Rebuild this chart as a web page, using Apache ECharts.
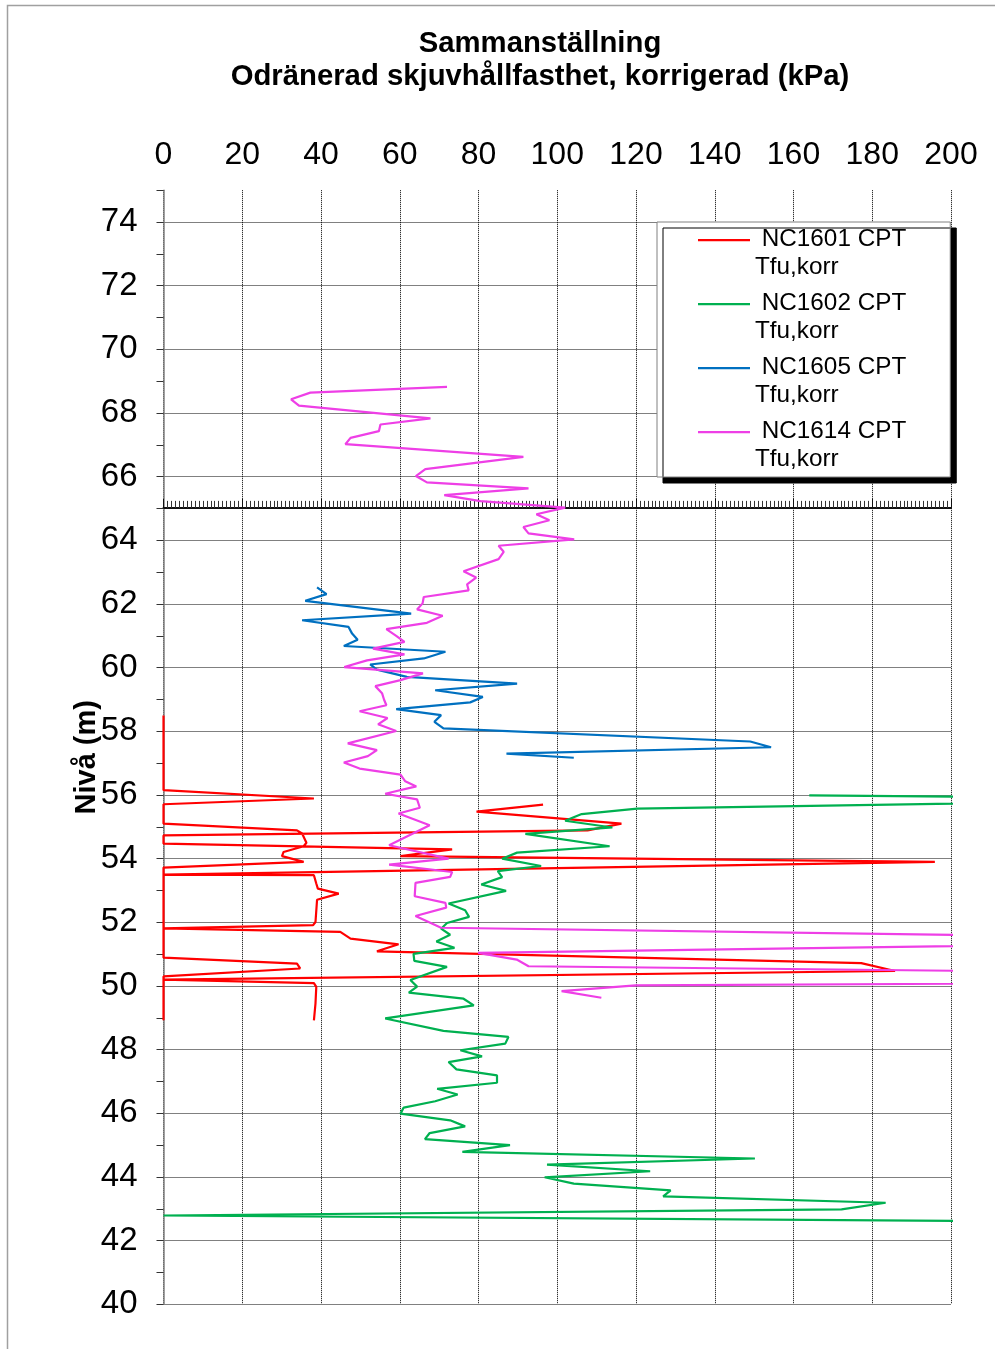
<!DOCTYPE html>
<html>
<head>
<meta charset="utf-8">
<script src="https://cdn.jsdelivr.net/npm/echarts@6/dist/echarts.min.js"></script>
<style>html,body{margin:0;padding:0;background:#fff}#chart{width:995px;height:1349px}</style>
</head>
<body>
<div id="chart"></div>
<script>
// ---- data (level in m, value in kPa) ----
const seriesNames = ['NC1601 CPT Tfu,korr', 'NC1602 CPT Tfu,korr', 'NC1605 CPT Tfu,korr', 'NC1614 CPT Tfu,korr'];
const seriesColors = ['#FF0000', '#00B050', '#0070C0', '#EE3FE6'];
const groundLevel = 65.02;

const nc1601aLevel = [58.5, 56.15, 55.89, 55.71, 55.10, 54.89, 54.79, 54.50, 54.39, 54.21, 54.08, 53.90, 53.72, 50.89, 50.70, 50.55, 50.30, 48.92];
const nc1601aValue = [0, 0, 38.2, 0, 0, 33.9, 35.2, 36.3, 35.6, 30.5, 30.1, 35.6, 0, 0, 33.9, 34.7, 0, 0];
const nc1601bLevel = [55.70, 55.48, 55.10, 54.89, 54.73, 54.47, 54.29, 54.08, 53.90, 53.50, 53.48, 53.22, 53.06, 52.90, 52.71, 52.01, 51.91, 51.81, 51.75, 51.70, 51.49, 51.31, 51.09, 50.72, 50.47, 50.20, 50.09, 49.97, 49.45, 48.92];
const nc1601bValue = [96.4, 79.5, 116.3, 107.7, 0, 0, 73.3, 60.2, 195.9, 0, 38.2, 38.8, 39.2, 44.5, 39.0, 38.6, 38.0, 0, 0, 44.9, 47.5, 59.7, 54.2, 177.2, 185.8, 0, 38.2, 38.8, 38.6, 38.2];

const nc1602Level = [55.99, 55.87, 55.57, 55.40, 55.19, 54.98, 54.78, 54.39, 54.19, 54.00, 53.77, 53.61, 53.42, 53.19, 52.99, 52.59, 52.38, 52.17, 51.98, 51.80, 51.61, 51.40, 51.20, 51.01, 50.79, 50.60, 50.19, 49.98, 49.79, 49.60, 49.39, 48.98, 48.59, 48.40, 48.19, 47.98, 47.79, 47.61, 47.38, 47.19, 46.96, 46.77, 46.59, 46.38, 46.18, 45.99, 45.78, 45.59, 45.38, 45.19, 45.00, 44.79, 44.58, 44.39, 44.18, 43.99, 43.79, 43.58, 43.39, 43.19, 42.98, 42.79, 42.62];
const nc1602Value = [164, 271, 120.3, 106.2, 102.0, 114.0, 91.9, 113.3, 89.8, 86.0, 95.9, 84.9, 86.0, 80.7, 87.0, 72.4, 76.6, 77.6, 72.0, 70.5, 72.8, 69.3, 73.9, 63.5, 63.7, 72.0, 62.7, 64.4, 62.3, 76.2, 78.8, 56.3, 71.1, 87.6, 86.8, 75.4, 80.9, 72.4, 74.4, 84.7, 84.7, 69.5, 74.7, 69.0, 61.0, 60.2, 72.8, 76.6, 67.6, 66.4, 88.0, 75.9, 150.2, 97.4, 123.6, 96.8, 104.2, 128.8, 126.9, 183.4, 172.2, 0, 202];

const nc1605Level = [62.52, 62.31, 62.10, 61.70, 61.49, 61.28, 61.07, 60.88, 60.68, 60.50, 60.29, 60.10, 59.94, 59.71, 59.50, 59.29, 59.08, 58.91, 58.70, 58.51, 58.30, 58.09, 57.68, 57.50, 57.30, 57.17];
const nc1605Value = [39.0, 41.4, 36.0, 62.9, 35.2, 47.0, 47.9, 49.3, 45.8, 71.6, 66.1, 52.5, 54.2, 61.8, 89.8, 69.0, 81.1, 77.9, 59.1, 70.5, 68.8, 71.1, 149.0, 154.3, 87.1, 104.2];

const nc1614Level = [68.82, 68.64, 68.43, 68.23, 67.83, 67.64, 67.43, 67.22, 67.02, 66.62, 66.24, 66.02, 65.82, 65.63, 65.42, 65.23, 65.03, 64.82, 64.63, 64.42, 64.22, 64.03, 63.83, 63.64, 63.41, 63.03, 62.83, 62.62, 62.43, 62.22, 62.02, 61.83, 61.63, 61.41, 61.21, 61.00, 60.81, 60.60, 60.42, 60.23, 60.02, 59.82, 59.61, 59.42, 59.20, 59.00, 58.82, 58.63, 58.42, 58.22, 58.01, 57.62, 57.41, 57.22, 57.02, 56.83, 56.64, 56.43, 56.27, 56.04, 55.86, 55.60, 55.42, 55.05, 54.42, 54.00, 53.81, 53.58, 53.43, 53.24, 52.82, 52.61, 52.46, 52.20, 51.83, 51.43, 51.04, 50.83, 50.62, 50.20, 50.02, 49.84, 49.63];
const nc1614Value = [72.0, 37.3, 32.4, 34.4, 67.8, 55.1, 54.7, 47.5, 46.2, 91.4, 66.5, 64.1, 66.9, 92.7, 71.3, 80.5, 102.0, 94.7, 98.0, 91.4, 92.7, 104.3, 85.1, 86.4, 85.1, 76.2, 79.4, 77.1, 77.5, 66.1, 65.8, 64.4, 70.9, 66.9, 56.6, 59.1, 61.2, 53.2, 61.2, 51.7, 45.9, 65.9, 60.2, 53.8, 55.5, 56.0, 56.6, 49.8, 56.9, 54.5, 59.1, 46.8, 54.2, 51.9, 45.8, 49.8, 60.2, 61.4, 64.2, 56.3, 64.4, 65.1, 59.7, 67.6, 57.3, 72.4, 57.3, 73.3, 72.8, 64.0, 63.8, 71.6, 71.8, 64.0, 70.5, 304, 79.9, 89.7, 92.7, 413, 119.9, 101.1, 111.2];

const xMin = 0, xMax = 200, xStep = 20;
const yMin = 40, yMax = 75;

// ---- build ----
const zip = (vals, lvls) => vals.map((v, i) => [v, lvls[i]]);
const FONT = 'Liberation Sans, Arial, sans-serif';
const seriesData = [
  zip(nc1601aValue, nc1601aLevel).concat([[null, null]], zip(nc1601bValue, nc1601bLevel)),
  zip(nc1602Value, nc1602Level),
  zip(nc1605Value, nc1605Level),
  zip(nc1614Value, nc1614Level)
];

const chart = echarts.init(document.getElementById('chart'), null, {renderer: 'canvas'});
const option = {
  animation: false,
  backgroundColor: '#fff',
  graphic: [{
    type: 'rect', silent: true, z: -10,
    shape: {x: 7.5, y: 5.5, width: 1200, height: 1500},
    style: {fill: 'none', stroke: '#a0a0a0', lineWidth: 1.5}
  }],
  title: {
    text: 'Sammanställning\nOdränerad skjuvhållfasthet, korrigerad (kPa)',
    left: 540, top: 27, textAlign: 'center', padding: 0,
    textStyle: {fontFamily: FONT, fontSize: 29.3, fontWeight: 'bold', lineHeight: 33, color: '#000'}
  },
  grid: {left: 163.5, right: 44, top: 190.2, bottom: 44.7, containLabel: false},
  legend: {
    data: seriesNames,
    orient: 'vertical',
    left: 657, top: 222,
    padding: [4, 44, 4, 41],
    itemGap: 9,
    itemWidth: 52, itemHeight: 55,
    icon: 'path://M0,0 L0.01,0 M0,12.9 L52,12.9 L52,15.2 L0,15.2 Z M52,55 L51.99,55',
    itemStyle: {borderWidth: 0},
    selectedMode: false,
    formatter: n => ' ' + n.replace(' Tfu', '\nTfu'),
    textStyle: {fontFamily: FONT, fontSize: 24.3, lineHeight: 27.5, color: '#000'},
    backgroundColor: '#fff', borderColor: '#808080', borderWidth: 1,
    shadowColor: '#000', shadowBlur: 0, shadowOffsetX: 6, shadowOffsetY: 6
  },
  xAxis: [{
    type: 'value', gridIndex: 0, position: 'top', min: xMin, max: xMax, interval: xStep,
    axisLine: {show: false, onZero: false}, axisTick: {show: false},
    axisLabel: {fontFamily: FONT, fontSize: 32, color: '#000', margin: 19},
    splitLine: {show: true, lineStyle: {color: '#000', type: 'dotted', width: 1}}
  }, {
    type: 'value', gridIndex: 0, position: 'bottom', min: xMin, max: xMax, interval: xStep,
    axisLine: {show: true, onZero: true, onZeroAxisIndex: 2, lineStyle: {color: '#111', width: 2}},
    axisTick: {show: true, inside: true, length: 9, lineStyle: {color: '#111', width: 1}},
    minorTick: {show: true, splitNumber: 20, length: 7, lineStyle: {color: '#333', width: 1}},
    axisLabel: {show: false}, splitLine: {show: false}
  }],
  yAxis: [{
    type: 'value', gridIndex: 0, position: 'left', min: yMin, max: yMax, interval: 1,
    axisLine: {show: true, onZero: false, lineStyle: {color: '#808080', width: 1.5}},
    axisTick: {show: true, length: 7, lineStyle: {color: '#333'}},
    axisLabel: {fontFamily: FONT, fontSize: 33, color: '#000', margin: 26,
      formatter: v => (v % 2 === 0 ? String(v) : '')},
    splitLine: {show: false},
    name: 'Nivå (m)', nameLocation: 'middle', nameGap: 62, nameMoveOverlap: false,
    nameTextStyle: {fontFamily: FONT, fontSize: 29, fontWeight: 'bold', color: '#000', padding: [0, 20, 0, 0]}
  }, {
    type: 'value', gridIndex: 0, position: 'left', min: yMin, max: yMax, interval: 2,
    axisLine: {show: false, onZero: false}, axisTick: {show: false}, axisLabel: {show: false},
    splitLine: {show: true, showMaxLine: false, lineStyle: {color: '#000', type: 'dotted', width: 1}}
  }, {
    type: 'value', gridIndex: 0, show: false, position: 'right',
    min: yMin - groundLevel, max: yMax - groundLevel,
    axisLine: {onZero: false}, splitLine: {show: false}
  }],
  series: seriesNames.map((name, i) => ({
    name, type: 'line', xAxisIndex: 0, yAxisIndex: 0,
    data: seriesData[i], color: seriesColors[i],
    symbol: 'none', showSymbol: false, connectNulls: false, clip: true,
    lineStyle: {width: 2.2, color: seriesColors[i]},
    emphasis: {disabled: true}
  }))
};
chart.setOption(option);
</script>
</body>
</html>
